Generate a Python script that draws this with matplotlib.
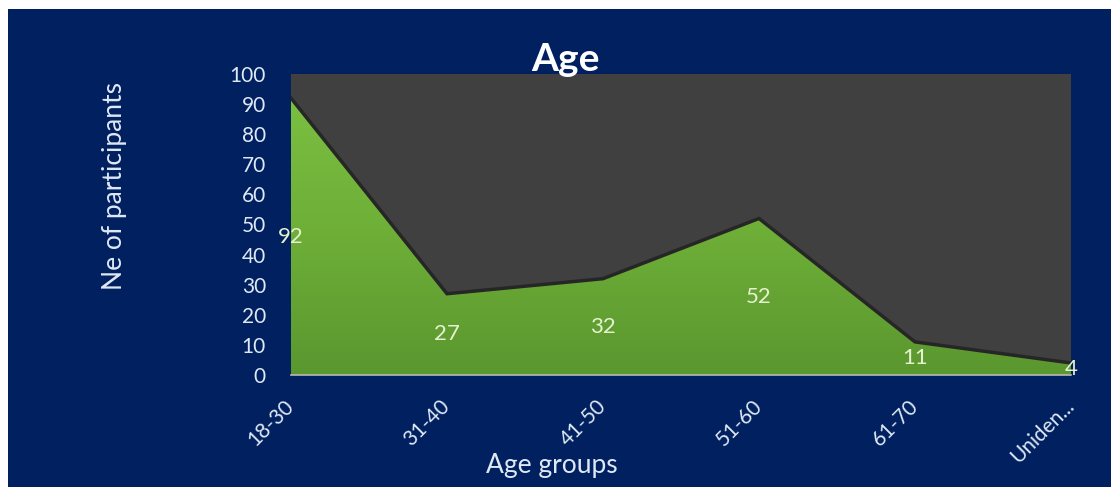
import numpy as np
import matplotlib
matplotlib.use('Agg')
import matplotlib.pyplot as plt
from matplotlib.colors import LinearSegmentedColormap
from matplotlib.patches import Rectangle

plt.rcParams['font.family'] = ['Lato', 'DejaVu Sans']

age_groups = ['18-30', '31-40', '41-50', '51-60', '61-70', 'Uniden...']
participants = [92, 27, 32, 52, 11, 4]
y_ticks = [0, 10, 20, 30, 40, 50, 60, 70, 80, 90, 100]

NAVY = '#00205f'
PLOT_BG = '#404040'
LABEL_COLOR = '#dfe8f5'
VALUE_COLOR = '#e6f2cf'

W, H = 1111, 487
fig = plt.figure(figsize=(W / 100, H / 100), dpi=100, facecolor='white')

# navy card behind the chart, leaving a thin white margin top and left
fig.patches.append(Rectangle((8 / W, 0), 1, 1 - 9 / H, transform=fig.transFigure,
                             facecolor=NAVY, edgecolor='none', zorder=-5))

ax = fig.add_axes([291 / W, 1 - 375 / H, 780 / W, 301 / H])
ax.set_zorder(1)
ax.set_facecolor(PLOT_BG)

x = np.arange(len(age_groups))
ax.set_xlim(x[0], x[-1])
ax.set_ylim(0, 100)

# area with a vertical green gradient clipped to the filled shape
area = ax.fill_between(x, participants, 0, facecolor='none', edgecolor='none')
green = LinearSegmentedColormap.from_list('green', ['#5a972f', '#6fb038', '#7cc143'])
grad = np.linspace(0, 1, 256).reshape(-1, 1)
img = ax.imshow(grad, cmap=green, origin='lower', aspect='auto',
                extent=[x[0], x[-1], 0, 100], zorder=1)
img.set_clip_path(area.get_paths()[0], transform=ax.transData)
ax.plot(x, participants, color='#262626', lw=2.5, zorder=2, solid_joinstyle='miter')

for xi, v in zip(x, participants):
    ax.text(xi, v / 2, str(v), ha='center', va='center', fontsize=16,
            color=VALUE_COLOR, zorder=3)

ax.set_yticks(y_ticks)
ax.set_xticks(x)
ax.set_xticklabels(age_groups, rotation=45, ha='right', va='center',
                   rotation_mode='anchor')
ax.tick_params(axis='both', length=0, labelsize=15, colors=LABEL_COLOR)
ax.tick_params(axis='x', pad=20)
ax.tick_params(axis='y', pad=18)

for side in ['top', 'right', 'left']:
    ax.spines[side].set_visible(False)
ax.spines['bottom'].set_color('#b8b8b8')
ax.spines['bottom'].set_linewidth(1.2)
ax.spines['bottom'].set_zorder(4)

fig.text(565 / W, 1 - 71 / H, 'Age', ha='center', va='baseline', fontsize=28,
         fontweight='bold', color='white', zorder=5)
fig.text(115 / W, 1 - 186 / H, 'Ne of participants', rotation=90, ha='center',
         va='center', fontsize=19, color=LABEL_COLOR)
fig.text(552 / W, 1 - 465 / H, 'Age groups', ha='center', va='center',
         fontsize=19, color=LABEL_COLOR)

fig.savefig('out.png', dpi=100, facecolor=fig.get_facecolor())
